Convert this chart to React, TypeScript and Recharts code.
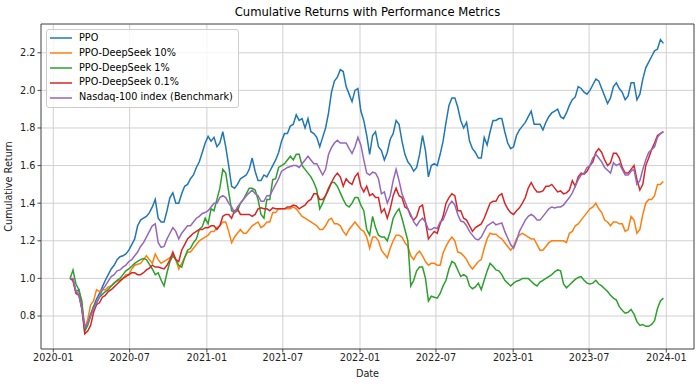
import React from 'react';
import { LineChart, Line, XAxis, YAxis, CartesianGrid, ReferenceArea, Label } from 'recharts';

// weekly samples starting 2020-02-10 (day numbers counted from 2020-01-01)
const DAY_START = 40;
const DAY_STEP = 7;

const ppo = [
  1.00, 0.99, 0.93, 0.94, 0.84, 0.73, 0.77, 0.81, 0.85, 0.89,
  0.92, 0.955, 0.99, 1.02, 1.05, 1.07, 1.10, 1.115, 1.12, 1.13,
  1.15, 1.18, 1.21, 1.28, 1.31, 1.32, 1.33, 1.35, 1.38, 1.42,
  1.32, 1.30, 1.30, 1.36, 1.43, 1.455, 1.40, 1.40, 1.45, 1.49,
  1.50, 1.53, 1.55, 1.59, 1.62, 1.67, 1.72, 1.755, 1.73, 1.75,
  1.70, 1.72, 1.78, 1.70, 1.60, 1.49, 1.48, 1.50, 1.53, 1.54,
  1.55, 1.58, 1.64, 1.57, 1.52, 1.52, 1.55, 1.54, 1.57, 1.60,
  1.63, 1.67, 1.73, 1.77, 1.77, 1.81, 1.82, 1.87, 1.84, 1.85,
  1.80, 1.85, 1.78, 1.77, 1.75, 1.70, 1.75, 1.80, 1.88, 1.99,
  2.05, 2.07, 2.11, 2.10, 2.02, 1.98, 1.94, 2.00, 2.01, 1.89,
  1.84, 1.76, 1.66, 1.76, 1.78, 1.70, 1.68, 1.63, 1.67, 1.74,
  1.77, 1.84, 1.82, 1.73, 1.66, 1.62, 1.60, 1.57, 1.59, 1.66,
  1.76, 1.68, 1.54, 1.60, 1.61, 1.60, 1.66, 1.73, 1.83, 1.92,
  1.96, 1.96, 1.91, 1.84, 1.80, 1.83, 1.73, 1.69, 1.67, 1.64,
  1.64, 1.75, 1.71, 1.78, 1.84, 1.84, 1.85, 1.85, 1.78, 1.72,
  1.69, 1.70, 1.76, 1.79, 1.81, 1.83, 1.86, 1.89, 1.82, 1.82,
  1.82, 1.79, 1.83, 1.86, 1.88, 1.89, 1.90, 1.86, 1.85, 1.88,
  1.92, 1.95, 1.965, 2.02, 2.01, 1.99, 1.98, 2.00, 2.03, 2.06,
  2.05, 2.01, 1.97, 1.93, 1.96, 2.02, 2.04, 2.01, 1.99, 1.95,
  1.97, 2.04, 2.04, 1.95, 1.98, 2.06, 2.12, 2.15, 2.18, 2.21,
  2.22, 2.27, 2.25,
];

const ds10 = [
  1.00, 0.99, 0.93, 0.92, 0.86, 0.74, 0.78, 0.86, 0.88, 0.94,
  0.93, 0.94, 0.94, 0.955, 0.96, 0.975, 0.985, 0.99, 1.00, 1.02,
  1.02, 1.05, 1.07, 1.075, 1.08, 1.10, 1.12, 1.10, 1.08, 1.13,
  1.10, 1.08, 1.09, 1.10, 1.11, 1.125, 1.10, 1.05, 1.08, 1.11,
  1.14, 1.14, 1.16, 1.18, 1.20, 1.21, 1.22, 1.23, 1.25, 1.25,
  1.27, 1.28, 1.30, 1.30, 1.25, 1.19, 1.22, 1.24, 1.26, 1.24,
  1.24, 1.26, 1.28, 1.29, 1.30, 1.27, 1.28, 1.30, 1.30, 1.35,
  1.35, 1.37, 1.37, 1.37, 1.37, 1.37, 1.38, 1.37, 1.35, 1.33,
  1.32, 1.31, 1.30, 1.29, 1.28, 1.26, 1.26, 1.28, 1.31, 1.32,
  1.29, 1.29, 1.28, 1.25, 1.23, 1.26, 1.28, 1.30, 1.28, 1.26,
  1.25, 1.22, 1.16, 1.22, 1.22, 1.20, 1.15, 1.13, 1.11, 1.16,
  1.20, 1.23, 1.23, 1.22, 1.19, 1.17, 1.12, 1.10, 1.13, 1.145,
  1.12, 1.09, 1.07, 1.08, 1.08, 1.07, 1.07, 1.135, 1.17, 1.20,
  1.22, 1.20, 1.14, 1.135, 1.12, 1.10, 1.07, 1.05, 1.07, 1.09,
  1.10, 1.16, 1.21, 1.24, 1.235, 1.235, 1.22, 1.21, 1.19, 1.17,
  1.15, 1.17, 1.21, 1.23, 1.24, 1.23, 1.22, 1.21, 1.21, 1.18,
  1.15, 1.15, 1.17, 1.19, 1.20, 1.20, 1.20, 1.20, 1.20, 1.19,
  1.24, 1.25, 1.28, 1.29, 1.31, 1.33, 1.35, 1.37, 1.38, 1.40,
  1.37, 1.35, 1.31, 1.30, 1.28, 1.30, 1.30, 1.29, 1.29, 1.25,
  1.26, 1.33, 1.31, 1.24, 1.26, 1.34, 1.40, 1.42, 1.42, 1.44,
  1.50, 1.50, 1.515,
];

const ds1 = [
  1.00, 1.045, 0.97, 0.94, 0.88, 0.72, 0.75, 0.80, 0.85, 0.87,
  0.90, 0.915, 0.93, 0.94, 0.96, 0.975, 0.99, 1.00, 1.02, 1.04,
  1.05, 1.065, 1.08, 1.09, 1.10, 1.105, 1.10, 1.075, 1.05, 1.02,
  1.03, 0.99, 0.96, 1.03, 1.09, 1.12, 1.10, 1.07, 1.06, 1.11,
  1.15, 1.16, 1.19, 1.21, 1.26, 1.275, 1.32, 1.29, 1.37, 1.36,
  1.42, 1.48, 1.58, 1.56, 1.46, 1.36, 1.35, 1.36, 1.40, 1.42,
  1.45, 1.48, 1.48, 1.47, 1.42, 1.34, 1.32, 1.42, 1.42, 1.525,
  1.53, 1.59, 1.60, 1.61, 1.63, 1.65, 1.63, 1.66, 1.66, 1.60,
  1.58, 1.56, 1.54, 1.51, 1.47, 1.37, 1.40, 1.44, 1.47, 1.51,
  1.51, 1.49, 1.455, 1.42, 1.39, 1.38, 1.40, 1.43, 1.43, 1.39,
  1.36, 1.26, 1.23, 1.33, 1.27, 1.23, 1.22, 1.22, 1.20, 1.25,
  1.32, 1.35, 1.37, 1.32, 1.26, 1.20, 0.96, 0.99, 1.04, 1.06,
  1.06, 1.00, 0.88, 0.905, 0.90, 0.895, 0.92, 0.96, 0.99, 1.05,
  1.09, 1.08, 1.045, 1.01, 1.02, 1.01, 0.96, 0.945, 0.955, 0.975,
  0.94, 0.99, 1.04, 1.08, 1.065, 1.045, 1.04, 1.02, 0.99, 0.975,
  0.96, 0.975, 0.985, 0.99, 1.00, 1.00, 1.00, 0.985, 0.97, 0.96,
  0.98, 0.99, 1.00, 1.01, 1.02, 1.035, 1.045, 1.04, 0.97, 0.95,
  0.965, 0.98, 0.995, 1.005, 1.01, 0.99, 0.975, 0.97, 0.975, 0.99,
  0.97, 0.96, 0.945, 0.93, 0.91, 0.895, 0.885, 0.85, 0.83, 0.815,
  0.82, 0.835, 0.81, 0.77, 0.75, 0.755, 0.745, 0.745, 0.755, 0.775,
  0.84, 0.88, 0.895,
];

const ds01 = [
  1.00, 0.99, 0.92, 0.91, 0.84, 0.705, 0.72, 0.75, 0.82, 0.86,
  0.87, 0.90, 0.91, 0.93, 0.94, 0.955, 0.97, 0.985, 1.00, 1.01,
  1.02, 1.03, 1.03, 1.02, 1.02, 1.03, 1.045, 1.055, 1.07, 1.06,
  1.06, 1.055, 1.05, 1.07, 1.10, 1.14, 1.10, 1.09, 1.15, 1.18,
  1.21, 1.225, 1.24, 1.25, 1.26, 1.26, 1.27, 1.27, 1.28, 1.28,
  1.26, 1.28, 1.33, 1.34, 1.34, 1.32, 1.36, 1.37, 1.34, 1.34,
  1.34, 1.34, 1.33, 1.34, 1.37, 1.375, 1.37, 1.37, 1.36, 1.375,
  1.37, 1.37, 1.37, 1.37, 1.38, 1.38, 1.39, 1.385, 1.37, 1.38,
  1.39, 1.41, 1.42, 1.45, 1.45, 1.42, 1.42, 1.44, 1.48, 1.51,
  1.54, 1.56, 1.54, 1.49, 1.53, 1.51, 1.50, 1.54, 1.56, 1.49,
  1.46, 1.49, 1.44, 1.45, 1.43, 1.43, 1.35, 1.37, 1.32, 1.37,
  1.44, 1.48, 1.44, 1.43, 1.38, 1.37, 1.33, 1.31, 1.33, 1.38,
  1.39, 1.30, 1.21, 1.23, 1.25, 1.24, 1.29, 1.33, 1.40, 1.43,
  1.45, 1.44, 1.36, 1.36, 1.32, 1.31, 1.28, 1.25, 1.27, 1.28,
  1.29, 1.32, 1.36, 1.40, 1.41, 1.41, 1.44, 1.45, 1.40, 1.37,
  1.35, 1.34, 1.36, 1.375, 1.40, 1.43, 1.48, 1.51, 1.48, 1.46,
  1.46, 1.465, 1.49, 1.49, 1.50, 1.48, 1.46, 1.465, 1.45, 1.455,
  1.47, 1.52, 1.49, 1.54, 1.56, 1.555, 1.57, 1.60, 1.62, 1.67,
  1.69, 1.67, 1.63, 1.60, 1.615, 1.665, 1.665, 1.64, 1.59, 1.56,
  1.56, 1.58, 1.60, 1.525, 1.47, 1.50, 1.60, 1.64, 1.685, 1.72,
  1.76, 1.77, 1.78,
];

const nasdaq = [
  1.00, 1.00, 0.93, 0.91, 0.84, 0.74, 0.76, 0.80, 0.84, 0.87,
  0.90, 0.94, 0.96, 0.985, 1.01, 1.02, 1.04, 1.045, 1.06, 1.07,
  1.09, 1.10, 1.12, 1.14, 1.17, 1.19, 1.22, 1.25, 1.28, 1.29,
  1.19, 1.165, 1.17, 1.21, 1.24, 1.27, 1.25, 1.21, 1.24, 1.26,
  1.28, 1.28, 1.30, 1.32, 1.33, 1.345, 1.35, 1.36, 1.38, 1.40,
  1.40, 1.43, 1.44, 1.43, 1.40, 1.38, 1.35, 1.38, 1.40, 1.42,
  1.44, 1.455, 1.47, 1.45, 1.44, 1.41, 1.41, 1.44, 1.44, 1.47,
  1.50, 1.53, 1.57, 1.58, 1.59, 1.595, 1.60, 1.60, 1.59, 1.61,
  1.63, 1.65, 1.63, 1.61, 1.61, 1.58, 1.55, 1.58, 1.66, 1.695,
  1.72, 1.735, 1.72, 1.72, 1.72, 1.69, 1.665, 1.70, 1.75, 1.71,
  1.63, 1.56, 1.55, 1.565, 1.56, 1.53, 1.45, 1.46, 1.40, 1.44,
  1.52, 1.58, 1.52, 1.45, 1.41, 1.37, 1.34, 1.30, 1.28, 1.305,
  1.32, 1.30, 1.26, 1.26, 1.27, 1.265, 1.30, 1.31, 1.35, 1.39,
  1.41, 1.39, 1.34, 1.305, 1.30, 1.28, 1.25, 1.23, 1.21, 1.205,
  1.22, 1.25, 1.28, 1.29, 1.30, 1.285, 1.29, 1.295, 1.25, 1.215,
  1.18, 1.16, 1.20, 1.25, 1.28, 1.31, 1.33, 1.34, 1.33, 1.31,
  1.31, 1.33, 1.35, 1.37, 1.38, 1.375, 1.38, 1.38, 1.39, 1.41,
  1.43, 1.455, 1.49, 1.525, 1.55, 1.56, 1.59, 1.60, 1.64, 1.66,
  1.64, 1.62, 1.59, 1.575, 1.56, 1.615, 1.60, 1.61, 1.58, 1.55,
  1.55, 1.57, 1.58, 1.50, 1.52, 1.58, 1.63, 1.67, 1.685, 1.70,
  1.75, 1.77, 1.78,
];

const seriesList = [
  { key: 'ppo', name: 'PPO', color: '#1f77b4', values: ppo },
  { key: 'ds10', name: 'PPO-DeepSeek 10%', color: '#ff7f0e', values: ds10 },
  { key: 'ds1', name: 'PPO-DeepSeek 1%', color: '#2ca02c', values: ds1 },
  { key: 'ds01', name: 'PPO-DeepSeek 0.1%', color: '#d62728', values: ds01 },
  { key: 'nasdaq', name: 'Nasdaq-100 index (Benchmark)', color: '#9467bd', values: nasdaq },
];

const xTickDays = [0, 182, 366, 547, 731, 912, 1096, 1277, 1461];
const xTickLabels = ['2020-01', '2020-07', '2021-01', '2021-07', '2022-01', '2022-07', '2023-01', '2023-07', '2024-01'];
const yTicks = [0.8, 1.0, 1.2, 1.4, 1.6, 1.8, 2.0, 2.2];

const X_DOMAIN: [number, number] = [-29.3, 1527];
const Y_DOMAIN: [number, number] = [0.6245, 2.353];

const FONT = '"DejaVu Sans", sans-serif';

const data = ppo.map((_, i) => {
  const row: { [k: string]: number } = { day: DAY_START + i * DAY_STEP };
  seriesList.forEach(s => {
    row[s.key] = s.values[i];
  });
  return row;
});

const formatDay = (d: number) => {
  const idx = xTickDays.indexOf(d);
  return idx >= 0 ? xTickLabels[idx] : '';
};

const App: React.FC = () => {
  return (
    <div style={{ position: 'absolute', left: 0, top: 0, width: 696, height: 387, background: '#fff', fontFamily: FONT }}>
      <div
        style={{
          position: 'absolute', left: 41, width: 653, top: 5, textAlign: 'center',
          fontSize: 11.6, color: '#000', whiteSpace: 'nowrap',
        }}
      >
        Cumulative Returns with Performance Metrics
      </div>

      <LineChart width={696} height={387} data={data} margin={{ top: 24, right: 2, bottom: 0, left: 0 }}>
        <CartesianGrid stroke="#d0d0d0" strokeWidth={1} />
        <XAxis
          dataKey="day"
          type="number"
          domain={X_DOMAIN}
          ticks={xTickDays}
          tickFormatter={formatDay}
          allowDataOverflow
          height={38}
          axisLine={false}
          tickLine={{ stroke: '#222', strokeWidth: 0.8 }}
          tickSize={3.5}
          tick={{ fontSize: 9.7, fill: '#222', fontFamily: FONT }}
        >
          <Label value="Date" position="insideBottom" offset={10} style={{ fontSize: 9.7, fill: '#222', fontFamily: FONT }} />
        </XAxis>
        <YAxis
          type="number"
          domain={Y_DOMAIN}
          ticks={yTicks}
          tickFormatter={(v: number) => v.toFixed(1)}
          allowDataOverflow
          width={41}
          axisLine={false}
          tickLine={{ stroke: '#222', strokeWidth: 0.8 }}
          tickSize={3.5}
          tick={{ fontSize: 9.7, fill: '#222', fontFamily: FONT }}
        >
          <Label
            value="Cumulative Return"
            angle={-90}
            position="insideLeft"
            offset={9}
            style={{ fontSize: 9.7, fill: '#222', fontFamily: FONT, textAnchor: 'middle' }}
          />
        </YAxis>
        {seriesList.map(s => (
          <Line
            key={s.key}
            dataKey={s.key}
            name={s.name}
            type="linear"
            stroke={s.color}
            strokeWidth={1.5}
            dot={false}
            activeDot={false}
            isAnimationActive={false}
          />
        ))}
        <ReferenceArea
          x1={X_DOMAIN[0]}
          x2={X_DOMAIN[1]}
          y1={Y_DOMAIN[0]}
          y2={Y_DOMAIN[1]}
          fill="none"
          stroke="#333"
          strokeWidth={0.8}
          ifOverflow="visible"
        />
      </LineChart>

      <div
        style={{
          position: 'absolute', left: 46, top: 29, padding: '1px 5px 2px 3px',
          background: 'rgba(255,255,255,0.8)', border: '1px solid #cccccc', borderRadius: 3,
          fontSize: 9.7, lineHeight: '14.8px', color: '#000',
        }}
      >
        {seriesList.map(s => (
          <div key={s.key} style={{ display: 'flex', alignItems: 'center', whiteSpace: 'nowrap' }}>
            <svg width={22} height={4} style={{ marginRight: 7, display: 'block' }}>
              <line x1={0} y1={2} x2={22} y2={2} stroke={s.color} strokeWidth={1.5} />
            </svg>
            <span>{s.name}</span>
          </div>
        ))}
      </div>
    </div>
  );
};

export default App;
